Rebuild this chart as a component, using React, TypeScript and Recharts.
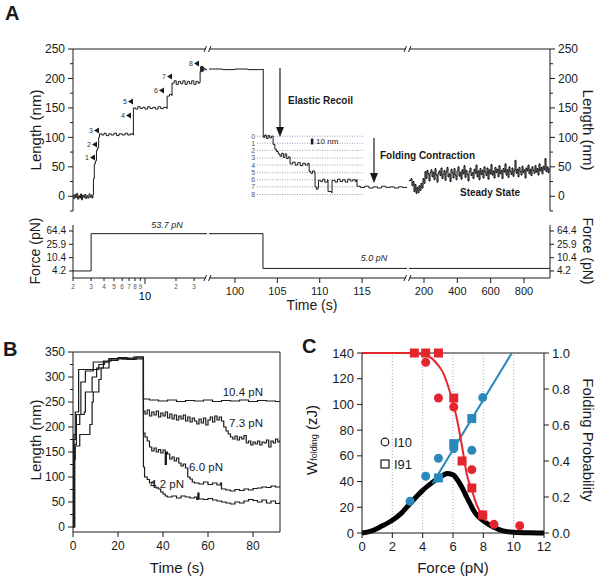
import React from "react";
import { LineChart, ComposedChart, Line, Scatter, XAxis, YAxis, ReferenceLine } from "recharts";

const FONT = '"Liberation Sans", Arial, Helvetica, sans-serif';
const INK = "#1a1a1a";
const RED = "#e3262d";
const BLUE = "#2a88bb";

// ---------- Panel A: length trace, broken time axis (log | 97-120 s | 110-956 s) ----------
const traceLog: [number, number][] = [
  [2.0, 2], [2.04, -4], [2.08, 3], [2.12, -2], [2.17, 5], [2.22, -5], [2.27, 1], [2.32, -3], [2.37, 4],
  [2.42, -6], [2.48, 2], [2.54, -2], [2.6, 3], [2.66, -4], [2.72, 1], [2.79, -3], [2.86, 4], [2.93, -2],
  [3.0, 2], [3.07, -3], [3.12, 3], [3.16, 30], [3.22, 55], [3.3, 60], [3.38, 78], [3.46, 82], [3.55, 100],
  [3.62, 106], [3.8, 104], [4.0, 107], [4.2, 103], [4.45, 106], [4.7, 104], [5.0, 107], [5.3, 103],
  [5.6, 106], [6.0, 104], [6.4, 107], [6.8, 104], [7.2, 106], [7.65, 104], [7.72, 150], [8.1, 148],
  [8.5, 152], [9.0, 149], [9.5, 151], [10.0, 148], [10.6, 152], [11.2, 149], [11.9, 151], [12.6, 148],
  [13.4, 152], [14.2, 149], [15.1, 151], [16.3, 149], [16.4, 170], [17.3, 173], [18.2, 171], [18.3, 192],
  [19.2, 196], [20.1, 190], [21.1, 195], [22.2, 191], [23.3, 196], [24.5, 190], [25.7, 195], [27.0, 191],
  [28.4, 196], [29.8, 190], [31.3, 195], [32.8, 192], [34.1, 194], [34.3, 212], [34.7, 220], [35.1, 211],
  [35.5, 221], [35.9, 212], [36.3, 220], [36.8, 213], [37.3, 217], [38.5, 215], [40, 216],
];
const traceMid: [number, number][] = [
  [96.93, 216], [98.5, 215], [100, 216], [101.5, 215], [103.28, 216], [103.33, 100], [103.5, 104],
  [103.7, 98], [103.9, 103], [104.1, 99], [104.3, 102], [104.5, 88], [104.7, 80], [104.9, 76], [105.1, 72],
  [105.3, 68], [105.5, 73], [105.7, 66], [105.9, 72], [106.1, 64], [106.3, 67], [106.5, 55], [106.8, 58],
  [107.1, 53], [107.4, 57], [107.7, 52], [108.0, 56], [108.3, 53], [108.6, 56], [108.75, 42], [108.95, 39],
  [109.15, 43], [109.4, 40], [109.45, 16], [109.6, 12], [109.8, 15], [109.85, 27], [110.1, 25],
  [110.35, 29], [110.6, 24], [110.9, 28], [110.98, 8], [111.4, 6], [111.45, 27], [111.8, 24], [112.1, 29],
  [112.4, 25], [112.7, 28], [113.0, 24], [113.3, 29], [113.6, 26], [113.9, 28], [114.2, 25], [114.35, 28],
  [114.4, 17], [114.8, 15], [115.3, 17], [115.8, 14], [116.3, 16], [116.8, 14], [117.3, 17], [117.8, 15],
  [118.3, 16], [118.8, 14], [119.3, 16], [119.8, 15], [120.3, 16],
];
const traceLate: [number, number][] = [
  [110, 27], [122, 30], [128, 18], [134, 25], [140, 8], [146, 20], [152, 5], [158, 15], [164, 6], [170, 18],
  [176, 10], [182, 22], [188, 14], [194, 30], [200, 22], [206, 42], [212, 30], [218, 44], [224, 38],
  [230, 26], [236, 40], [242, 45], [248, 33], [254, 41], [260, 28], [266, 47], [272, 36], [278, 24],
  [284, 39], [290, 43], [296, 35], [302, 48], [308, 30], [314, 37], [320, 44], [326, 27], [332, 41],
  [338, 49], [344, 33], [350, 38], [356, 25], [362, 46], [368, 40], [374, 31], [380, 47], [386, 36],
  [392, 28], [398, 43], [404, 50], [410, 34], [416, 41], [422, 29], [428, 45], [434, 38], [440, 52],
  [446, 32], [452, 44], [458, 37], [464, 26], [470, 42], [476, 48], [482, 35], [488, 40], [494, 30],
  [500, 46], [506, 39], [512, 53], [518, 33], [524, 43], [530, 28], [536, 47], [542, 37], [548, 44],
  [554, 31], [560, 50], [566, 41], [572, 35], [578, 48], [584, 29], [590, 45], [596, 38], [602, 54],
  [608, 36], [614, 43], [620, 31], [626, 49], [632, 40], [638, 46], [644, 33], [650, 52], [656, 38],
  [662, 44], [668, 30], [674, 47], [680, 41], [686, 55], [692, 36], [698, 45], [704, 32], [710, 50],
  [716, 42], [722, 37], [728, 48], [734, 34], [740, 44], [746, 61], [752, 39], [758, 46], [764, 33],
  [770, 49], [776, 42], [782, 36], [788, 51], [794, 40], [800, 45], [806, 31], [812, 48], [818, 43],
  [824, 53], [830, 38], [836, 46], [842, 35], [848, 50], [854, 44], [860, 39], [866, 52], [872, 41],
  [878, 47], [884, 36], [890, 55], [896, 43], [902, 49], [908, 38], [914, 51], [920, 45], [926, 64],
  [932, 42], [938, 50], [944, 40], [950, 48],
];
const lengthTicks = [-25, 0, 25, 50, 75, 100, 125, 150, 175, 200, 225, 250];
const insetLevels = [102, 90, 78, 65, 53, 40, 28, 16, 3];
const stepMarks = ["1", "2", "3", "4", "5", "6", "7", "8"];

const forceLog: [number, number][] = [[2, 4.2], [3, 53.7], [40, 53.7]];
const forceMid: [number, number][] = [[96.93, 53.7], [103.3, 5.0], [120.3, 5.0]];
const forceLate: [number, number][] = [[110, 5.0], [956, 5.0]];
const forceTicks = [4.2, 10.4, 25.9, 64.4];
const timeTicksLog = [2, 3, 4, 5, 6, 7, 8, 9, 10, 20, 30];
const timeTicksMid = [100, 105, 110, 115];
const timeTicksLate = [200, 400, 600, 800];

// ---------- Panel B ----------
const b104: [number, number][] = [
  [0, 0], [0.3, 175], [1, 230], [2.5, 315], [11, 315], [11.5, 325], [14, 330], [16, 336], [20, 339],
  [24, 335], [28, 340], [31.2, 338], [31.3, 256], [34, 254], [38, 252], [42, 254], [46, 251], [50, 253],
  [54, 252], [58, 254], [62, 251], [66, 253], [70, 252], [74, 254], [78, 251], [82, 253], [86, 252],
  [90, 251], [92, 250],
];
const b73: [number, number][] = [
  [0, 0], [0.4, 185], [1.5, 225], [3.5, 290], [5.5, 312], [8, 312], [9, 330], [16, 337], [22, 336],
  [27, 340], [31.2, 337], [31.3, 232], [32, 226], [33, 234], [34, 222], [35, 230], [36, 224], [37, 232],
  [38, 220], [39, 228], [40, 222], [41, 230], [42, 218], [43, 226], [44, 216], [45, 224], [46, 214],
  [47, 222], [48, 216], [49, 224], [50, 212], [51, 220], [52, 210], [53, 218], [54, 212], [55, 206],
  [56, 216], [57, 208], [58, 218], [59, 204], [60, 214], [61, 220], [62, 210], [63, 222], [64, 214],
  [65, 220], [66, 212], [67, 200], [68, 192], [69, 186], [70, 180], [71, 176], [72, 182], [73, 174],
  [74, 180], [75, 176], [76, 183], [77, 168], [78, 172], [79, 164], [80, 170], [81, 166], [82, 172],
  [83, 164], [84, 170], [85, 168], [86, 174], [87, 160], [88, 172], [89, 168], [90, 176], [91, 170],
  [92, 174],
];
const b60: [number, number][] = [
  [0, 0], [0.8, 165], [1.5, 205], [3, 225], [5, 230], [5.5, 270], [8, 270], [8.5, 300], [10, 300],
  [10.5, 318], [13, 318], [13.5, 332], [17, 336], [24, 338], [31.2, 336], [31.3, 188], [32, 180],
  [33, 172], [34, 160], [35, 152], [36, 158], [37, 150], [38, 155], [39, 148], [40, 154], [41, 125],
  [41.5, 150], [42, 146], [43, 136], [44, 140], [45, 132], [46, 138], [47, 128], [48, 122], [49, 126],
  [50, 118], [51, 100], [52, 96], [53, 90], [54, 88], [56, 86], [58, 90], [60, 85], [62, 88], [64, 84],
  [65.5, 88], [66, 76], [68, 74], [70, 72], [72, 75], [74, 73], [76, 76], [78, 74], [80, 77], [82, 78],
  [84, 80], [86, 79], [88, 82], [90, 80], [92, 81],
];
const b42: [number, number][] = [
  [0, 0], [0.5, 135], [1, 162], [3, 185], [7, 185], [7.5, 205], [8.5, 250], [9, 270], [11, 270],
  [11.5, 295], [12.5, 318], [15, 318], [16, 333], [20, 337], [25, 336], [31.2, 338], [31.3, 120],
  [31.8, 100], [33, 95], [34, 88], [35, 90], [36, 80], [37, 78], [38, 76], [39, 70], [40, 66], [41, 62],
  [42, 60], [44, 62], [46, 58], [48, 62], [50, 60], [52, 58], [54, 60], [55, 55], [55.5, 68], [56, 56],
  [58, 55], [60, 57], [62, 54], [64, 52], [66, 50], [68, 48], [70, 46], [72, 50], [74, 48], [76, 52],
  [78, 55], [80, 53], [82, 50], [84, 54], [86, 48], [88, 52], [90, 47], [92, 50],
];
const bLengthTicks = [0, 25, 50, 75, 100, 125, 150, 175, 200, 225, 250, 275, 300, 325, 350];
const bTimeTicks = [0, 20, 40, 60, 80];

// ---------- Panel C ----------
const probCurve: [number, number][] = [
  [0, 1], [3.2, 1], [4.05, 0.99], [4.6, 0.97], [5.04, 0.93], [5.37, 0.887], [5.7, 0.81], [6.05, 0.71],
  [6.23, 0.644], [6.45, 0.55], [6.68, 0.44], [6.9, 0.33], [7.24, 0.24], [7.57, 0.155], [7.96, 0.095],
  [8.2, 0.065],
];
const workLine: [number, number][] = [[4.65, 38.5], [9.88, 140]];
const distCurve: [number, number][] = [
  [0, 0], [0.6, 1.5], [1.2, 4.7], [2, 9.9], [2.6, 15.5], [3.17, 22.9], [4, 33.2], [4.6, 39],
  [5.04, 42.8], [5.35, 45], [5.63, 46.2], [5.9, 45.7], [6.05, 44.9], [6.25, 42], [6.45, 38.4], [6.7, 33],
  [6.9, 28], [7.1, 23.5], [7.35, 17.7], [7.65, 13], [7.96, 9.9], [8.3, 7], [8.66, 4.7], [9.3, 1.6],
  [10, 0.5], [11, 0.1], [12, 0],
];
const probI10: [number, number][] = [[4.2, 0.948], [5.04, 0.75], [6.05, 0.7], [7.24, 0.352], [7.96, 0.1], [8.7, 0.048], [10.4, 0.04]];
const probI91: [number, number][] = [[3.45, 1.0], [4.2, 1.0], [5.04, 1.0], [6.05, 0.75], [6.6, 0.4], [7.24, 0.25], [7.96, 0.1]];
const workI10: [number, number][] = [[3.17, 24.7], [4.2, 44.1], [5.04, 58.1], [6.05, 65.6], [7.24, 64.3], [7.96, 105.3]];
const workI91: [number, number][] = [[5.04, 42.8], [6.05, 69.5], [7.24, 89]];
const cForceTicks = [0, 2, 4, 6, 8, 10, 12];
const cWorkTicks = [0, 20, 40, 60, 80, 100, 120, 140];
const cProbTicks = [0, 0.2, 0.4, 0.6, 0.8, 1.0];
const gridForces = [2, 4, 6, 8, 10];

const rows = (pts: [number, number][]) => pts.map(([t, v]) => ({ t, v }));
const axisLine = { stroke: INK, strokeWidth: 1 };

type TickOpts = {
  major?: (v: number) => boolean;
  label?: (v: number) => string;
  font?: number;
  majorLen?: number;
  minorLen?: number;
};

function axisTick(side: "left" | "right" | "bottom", o: TickOpts) {
  const major = o.major ?? (() => true);
  const label = o.label ?? ((v: number) => String(v));
  const font = o.font ?? 12;
  const majorLen = o.majorLen ?? 5;
  const minorLen = o.minorLen ?? 3;
  return (p: any) => {
    const v = p.payload.value;
    const m = major(v);
    const len = m ? majorLen : minorLen;
    const txt = m ? label(v) : "";
    const tp = { fontSize: font, fontFamily: FONT, fill: INK };
    if (side === "left")
      return (
        <g>
          <line x1={p.x} y1={p.y} x2={p.x - len} y2={p.y} stroke={INK} />
          {txt && <text x={p.x - len - 3} y={p.y} dy="0.35em" textAnchor="end" {...tp}>{txt}</text>}
        </g>
      );
    if (side === "right")
      return (
        <g>
          <line x1={p.x} y1={p.y} x2={p.x + len} y2={p.y} stroke={INK} />
          {txt && <text x={p.x + len + 3} y={p.y} dy="0.35em" textAnchor="start" {...tp}>{txt}</text>}
        </g>
      );
    return (
      <g>
        <line x1={p.x} y1={p.y} x2={p.x} y2={p.y + len} stroke={INK} />
        {txt && <text x={p.x} y={p.y + len + 3} dy="0.8em" textAnchor="middle" {...tp}>{txt}</text>}
      </g>
    );
  };
}

// log-decade ticks: small digits for 2..9, big "10"
function logTimeTick(p: any) {
  const v = p.payload.value;
  if (v === 10)
    return (
      <g>
        <line x1={p.x} y1={p.y} x2={p.x} y2={p.y + 6} stroke={INK} />
        <text x={p.x} y={p.y + 22} textAnchor="middle" fontSize={11} fontFamily={FONT} fill="#000" stroke="none">10</text>
      </g>
    );
  const d = v >= 10 ? String(v / 10) : String(v);
  return (
    <g>
      <line x1={p.x} y1={p.y} x2={p.x} y2={p.y + 3} stroke={INK} />
      <text x={p.x} y={p.y + 11} textAnchor="middle" fontSize={6.5} fontFamily={FONT} fill="#555" stroke="none">{d}</text>
    </g>
  );
}

const Box = ({ left, top, children }: { left: number; top: number; children: React.ReactNode }) => (
  <div style={{ position: "absolute", left, top }}>{children}</div>
);

const Brk = ({ x, y }: { x: number; y: number }) => (
  <g stroke={INK} strokeWidth={1}>
    <rect x={x - 2} y={y - 2} width={4} height={4} fill="#fff" stroke="none" />
    <line x1={x - 3.5} y1={y + 3} x2={x - 1} y2={y - 3} />
    <line x1={x + 1} y1={y + 3} x2={x + 3.5} y2={y - 3} />
  </g>
);

const stepPos: [number, number][] = [[85, 160], [87, 147], [89, 133], [121, 118], [123, 104], [154, 93], [162, 79], [189, 66]];

export default function App() {
  const lenTick = (side: "left" | "right") =>
    axisTick(side, { major: (v) => v % 50 === 0, majorLen: 5, minorLen: 3, font: 12 });
  const fTick = (side: "left" | "right") =>
    axisTick(side, { font: 10, majorLen: 4, label: (v) => v.toFixed(1) });
  const title = { fontFamily: FONT, fill: INK, textAnchor: "middle" as const, dominantBaseline: "central" as const };
  const frame = { stroke: INK, strokeWidth: 1 };

  return (
    <div style={{ position: "absolute", left: 0, top: 0, width: 600, height: 580, background: "#fff", overflow: "hidden", fontFamily: FONT }}>
      {/* A: length, segment 1 (log time) */}
      <Box left={0} top={0}>
        <LineChart width={207} height={212} data={rows(traceLog)} margin={{ top: 49, right: 0, bottom: 1, left: 0 }}>
          <XAxis dataKey="t" type="number" scale="log" domain={[2, 40]} allowDataOverflow hide />
          <YAxis type="number" domain={[-25, 250]} allowDataOverflow ticks={lengthTicks} interval={0} width={73} tickSize={0} tickMargin={0} tickLine={false} axisLine={axisLine} tick={lenTick("left")} />
          <ReferenceLine y={250} {...frame} />
          <Line dataKey="v" type="stepAfter" stroke={INK} strokeWidth={1} dot={false} isAnimationActive={false} />
        </LineChart>
      </Box>
      {/* A: length, segment 2 */}
      <Box left={209} top={0}>
        <LineChart width={198} height={212} data={rows(traceMid)} margin={{ top: 49, right: 0, bottom: 1, left: 0 }}>
          <XAxis dataKey="t" type="number" domain={[96.93, 120.3]} allowDataOverflow hide />
          <YAxis type="number" domain={[-25, 250]} allowDataOverflow hide />
          <ReferenceLine y={250} {...frame} />
          {insetLevels.map((lv, i) => (
            <ReferenceLine key={lv} segment={[{ x: 102.6, y: lv }, { x: 115.1, y: lv }]} stroke="#7d84b0" strokeWidth={0.8} strokeDasharray="1 1.5"
              label={{ value: String(i), position: "left", offset: 2, fontSize: 7, fill: "#555", fontFamily: FONT }} />
          ))}
          <ReferenceLine segment={[{ x: 109.1, y: 88 }, { x: 109.1, y: 98 }]} stroke={INK} strokeWidth={2.5}
            label={{ value: "10 nm", position: "right", offset: 4, fontSize: 8, fill: INK, fontFamily: FONT }} />
          <Line dataKey="v" type="stepAfter" stroke={INK} strokeWidth={1} dot={false} isAnimationActive={false} />
        </LineChart>
      </Box>
      {/* A: length, segment 3 */}
      <Box left={409} top={0}>
        <LineChart width={191} height={212} data={rows(traceLate)} margin={{ top: 49, right: 0, bottom: 1, left: 0 }}>
          <XAxis dataKey="t" type="number" domain={[110, 956]} allowDataOverflow hide />
          <YAxis type="number" orientation="right" domain={[-25, 250]} allowDataOverflow ticks={lengthTicks} interval={0} width={50} tickSize={0} tickMargin={0} tickLine={false} axisLine={axisLine} tick={lenTick("right")} />
          <ReferenceLine y={250} {...frame} />
          <Line dataKey="v" type="stepAfter" stroke="#000" strokeWidth={1} dot={false} isAnimationActive={false} />
        </LineChart>
      </Box>

      {/* A: force, three segments */}
      <Box left={0} top={225}>
        <LineChart width={207} height={83} data={rows(forceLog)} margin={{ top: 0, right: 0, bottom: 0, left: 0 }}>
          <XAxis dataKey="t" type="number" scale="log" domain={[2, 40]} allowDataOverflow ticks={timeTicksLog} interval={0} height={30} tickSize={0} tickMargin={0} tickLine={false} axisLine={axisLine} tick={logTimeTick} />
          <YAxis type="number" scale="log" domain={[2.6, 97]} allowDataOverflow ticks={forceTicks} interval={0} width={73} tickSize={0} tickMargin={0} tickLine={false} axisLine={axisLine} tick={fTick("left")} />
          <Line dataKey="v" type="stepAfter" stroke={INK} strokeWidth={1} dot={false} isAnimationActive={false} />
        </LineChart>
      </Box>
      <Box left={209} top={225}>
        <LineChart width={198} height={83} data={rows(forceMid)} margin={{ top: 0, right: 0, bottom: 0, left: 0 }}>
          <XAxis dataKey="t" type="number" domain={[96.93, 120.3]} allowDataOverflow ticks={timeTicksMid} interval={0} height={30} tickSize={0} tickMargin={0} tickLine={false} axisLine={axisLine} tick={axisTick("bottom", { font: 11, majorLen: 5 })} />
          <YAxis type="number" scale="log" domain={[2.6, 97]} allowDataOverflow hide />
          <Line dataKey="v" type="stepAfter" stroke={INK} strokeWidth={1} dot={false} isAnimationActive={false} />
        </LineChart>
      </Box>
      <Box left={409} top={225}>
        <LineChart width={191} height={83} data={rows(forceLate)} margin={{ top: 0, right: 0, bottom: 0, left: 0 }}>
          <XAxis dataKey="t" type="number" domain={[110, 956]} allowDataOverflow ticks={timeTicksLate} interval={0} height={30} tickSize={0} tickMargin={0} tickLine={false} axisLine={axisLine} tick={axisTick("bottom", { font: 11, majorLen: 5 })} />
          <YAxis type="number" scale="log" orientation="right" domain={[2.6, 97]} allowDataOverflow ticks={forceTicks} interval={0} width={50} tickSize={0} tickMargin={0} tickLine={false} axisLine={axisLine} tick={fTick("right")} />
          <Line dataKey="v" type="stepAfter" stroke={INK} strokeWidth={1} dot={false} isAnimationActive={false} />
        </LineChart>
      </Box>

      {/* B */}
      <Box left={0} top={340}>
        <LineChart width={290} height={216} margin={{ top: 12, right: 10, bottom: 0, left: 0 }}>
          <XAxis dataKey="t" type="number" domain={[0, 92]} allowDataOverflow ticks={bTimeTicks} interval={0} height={24} tickSize={0} tickMargin={0} tickLine={false} axisLine={axisLine} tick={axisTick("bottom", { font: 12, majorLen: 5 })} />
          <YAxis type="number" domain={[-10, 350]} allowDataOverflow ticks={bLengthTicks} interval={0} width={73} tickSize={0} tickMargin={0} tickLine={false} axisLine={axisLine} tick={axisTick("left", { major: (v) => v % 50 === 0, font: 12, majorLen: 5, minorLen: 3 })} />
          <ReferenceLine y={350} {...frame} />
          <ReferenceLine x={92} {...frame} />
          {[b104, b73, b60, b42].map((d, i) => (
            <Line key={i} data={rows(d)} dataKey="v" type="stepAfter" stroke={INK} strokeWidth={1.2} dot={false} isAnimationActive={false} />
          ))}
        </LineChart>
      </Box>

      {/* C */}
      <Box left={300} top={340}>
        <ComposedChart width={300} height={217} margin={{ top: 13, right: 0, bottom: 0, left: 0 }}>
          <XAxis dataKey="t" type="number" domain={[0, 12]} ticks={cForceTicks} interval={0} height={24} tickSize={0} tickMargin={0} tickLine={false} axisLine={axisLine} tick={axisTick("bottom", { font: 13, majorLen: 5 })} />
          <YAxis yAxisId="w" dataKey="v" type="number" domain={[0, 140]} ticks={cWorkTicks} interval={0} width={62} tickSize={0} tickMargin={0} tickLine={false} axisLine={axisLine} tick={axisTick("left", { font: 13, majorLen: 5 })} />
          <YAxis yAxisId="p" dataKey="v" type="number" orientation="right" domain={[0, 1]} ticks={cProbTicks} interval={0} width={56} tickSize={0} tickMargin={0} tickLine={false} axisLine={axisLine} tick={axisTick("right", { font: 13, majorLen: 5, label: (v) => v.toFixed(1) })} />
          <ReferenceLine yAxisId="w" y={140} {...frame} />
          {gridForces.map((f) => (
            <ReferenceLine key={f} yAxisId="w" x={f} stroke="#8c93c8" strokeWidth={0.8} strokeDasharray="1 2" />
          ))}
          <Line yAxisId="w" data={rows(distCurve)} dataKey="v" type="monotone" stroke="#000" strokeWidth={5} dot={false} isAnimationActive={false} />
          <Line yAxisId="w" data={rows(workLine)} dataKey="v" type="linear" stroke={BLUE} strokeWidth={2} dot={false} isAnimationActive={false} />
          <Line yAxisId="p" data={rows(probCurve)} dataKey="v" type="monotone" stroke={RED} strokeWidth={2} dot={false} isAnimationActive={false} />
          <Scatter yAxisId="w" data={rows(workI10)} dataKey="v" isAnimationActive={false}
            shape={(p: any) => <circle cx={p.cx} cy={p.cy} r={4.5} fill={BLUE} />} />
          <Scatter yAxisId="w" data={rows(workI91)} dataKey="v" isAnimationActive={false}
            shape={(p: any) => <rect x={p.cx - 4.5} y={p.cy - 4.5} width={9} height={9} fill={BLUE} />} />
          <Scatter yAxisId="p" data={rows(probI10)} dataKey="v" isAnimationActive={false}
            shape={(p: any) => <circle cx={p.cx} cy={p.cy} r={4.5} fill={RED} />} />
          <Scatter yAxisId="p" data={rows(probI91)} dataKey="v" isAnimationActive={false}
            shape={(p: any) => <rect x={p.cx - 4.5} y={p.cy - 4.5} width={9} height={9} fill={RED} />} />
        </ComposedChart>
      </Box>

      {/* annotations and titles */}
      <svg width={600} height={580} style={{ position: "absolute", left: 0, top: 0, pointerEvents: "none" }}>
        <text x={5} y={20} fontSize={20} fontWeight="bold" fontFamily={FONT} fill={INK}>A</text>
        <text x={3} y={356} fontSize={20} fontWeight="bold" fontFamily={FONT} fill={INK}>B</text>
        <text x={302} y={353} fontSize={20} fontWeight="bold" fontFamily={FONT} fill={INK}>C</text>

        <text {...title} fontSize={15} transform="translate(35,130) rotate(-90)">Length (nm)</text>
        <text {...title} fontSize={15} transform="translate(588,130) rotate(90)">Length (nm)</text>
        <text {...title} fontSize={14} transform="translate(35,251) rotate(-90)">Force (pN)</text>
        <text {...title} fontSize={14} transform="translate(588,251) rotate(90)">Force (pN)</text>
        <text {...title} fontSize={14} x={312} y={305}>Time (s)</text>

        {stepMarks.map((s, i) => {
          const [x, y] = stepPos[i];
          return (
            <g key={s}>
              <text x={x} y={y} fontSize={7} fontFamily={FONT} fill="#333">{s}</text>
              <polygon points={`${x + 5},${y - 2.5} ${x + 10},${y - 5.5} ${x + 10},${y + 0.5}`} fill={INK} />
            </g>
          );
        })}

        <line x1={280} y1={68} x2={280} y2={128} stroke={INK} strokeWidth={1.2} />
        <polygon points="276,127 284,127 280,137" fill={INK} />
        <line x1={374} y1={138} x2={374} y2={174} stroke={INK} strokeWidth={1.2} />
        <polygon points="370,173 378,173 374,183" fill={INK} />
        <text x={288} y={104} fontSize={10} fontWeight="bold" fontFamily={FONT} fill={INK}>Elastic Recoil</text>
        <text x={380} y={159} fontSize={10} fontWeight="bold" fontFamily={FONT} fill={INK}>Folding Contraction</text>
        <text x={460} y={196} fontSize={10} fontWeight="bold" fontFamily={FONT} fill={INK}>Steady State</text>

        <text x={167} y={228} textAnchor="middle" fontSize={9} fontStyle="italic" fontFamily={FONT} fill={INK}>53.7 pN</text>
        <text x={374} y={261} textAnchor="middle" fontSize={9} fontStyle="italic" fontFamily={FONT} fill={INK}>5.0 pN</text>

        <Brk x={207.5} y={49} />
        <Brk x={407.5} y={49} />
        <Brk x={207.5} y={278} />
        <Brk x={407.5} y={278} />

        <text {...title} fontSize={15} transform="translate(35,440) rotate(-90)">Length (nm)</text>
        <text {...title} fontSize={15} x={177} y={567}>Time (s)</text>
        <text x={263} y={396} textAnchor="end" fontSize={11.5} fontFamily={FONT} fill={INK}>10.4 pN</text>
        <text x={263} y={427} textAnchor="end" fontSize={11.5} fontFamily={FONT} fill={INK}>7.3 pN</text>
        <text x={223} y={471} textAnchor="end" fontSize={11.5} fontFamily={FONT} fill={INK}>6.0 pN</text>
        <text x={184} y={488} textAnchor="end" fontSize={11.5} fontFamily={FONT} fill={INK}>4.2 pN</text>

        <text {...title} fontSize={15} transform="translate(311,440) rotate(-90)">
          W<tspan fontSize={9} dy={3}>folding</tspan>
          <tspan dy={-3}> (zJ)</tspan>
        </text>
        <text {...title} fontSize={15} transform="translate(588,440) rotate(90)">Folding Probability</text>
        <text {...title} fontSize={15} x={453} y={567}>Force (pN)</text>
        <circle cx={385} cy={442} r={3.8} fill="none" stroke={INK} strokeWidth={1.2} />
        <text x={394} y={446.5} fontSize={13} fontFamily={FONT} fill={INK}>I10</text>
        <rect x={381} y={460} width={8} height={8} fill="none" stroke={INK} strokeWidth={1.2} />
        <text x={394} y={468.5} fontSize={13} fontFamily={FONT} fill={INK}>I91</text>
      </svg>
    </div>
  );
}
